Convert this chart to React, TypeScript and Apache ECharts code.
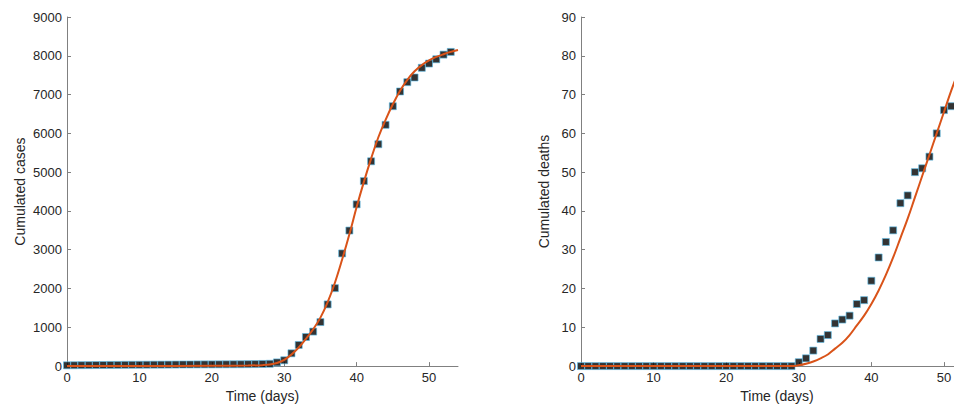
import React, { useEffect, useRef } from "react";
import * as echarts from "echarts";

const days = Array.from({ length: 54 }, (_, i) => i);
const cases = [20,22,24,25,27,28,30,31,33,34,35,36,37,38,39,40,41,42,43,44,44,45,46,47,48,50,52,55,60,95,150,330,545,750,890,1135,1590,2010,2905,3495,4170,4770,5280,5720,6220,6700,7080,7320,7440,7690,7800,7910,8030,8100];
const deaths = [0,0,0,0,0,0,0,0,0,0,0,0,0,0,0,0,0,0,0,0,0,0,0,0,0,0,0,0,0,0,1,2,4,7,8,11,12,13,16,17,22,28,32,35,42,44,50,51,54,60,66,67,72,74];
const fitDays = [0,10,20,25,27,28,29,30,31,32,33,34,35,36,37,38,39,40,41,42,43,44,45,46,47,48,49,50,51,52,53,54];
const fitCases = [0,2,8,15,25,40,80,160,300,480,700,950,1250,1650,2150,2750,3400,4100,4750,5350,5900,6350,6750,7100,7380,7600,7760,7880,7970,8040,8100,8150];
const fitDeaths = [0,0,0,0,0,0,0,0.2,0.6,1.2,2,3,4.5,6,8,10.5,13,16,19.5,23.5,28,33,38,43.5,49,54.5,60,65.5,71,76,81,86];

export default function App() {
  const ref = useRef<HTMLDivElement>(null);
  useEffect(() => {
    document.body.style.overflow = "hidden";
    const chart = echarts.init(ref.current!, null, { renderer: "svg" });
    const font = "Liberation Sans, Arial, sans-serif";
    const axisLine = { lineStyle: { color: "#808080", width: 1 } };
    const xAxis = (gi: number) => ({
      type: "value", gridIndex: gi, min: 0, max: 54, interval: 10,
      name: "Time (days)", nameLocation: "middle", nameGap: 22,
      nameTextStyle: { color: "#262626", fontSize: 14, fontFamily: font },
      axisLine, axisTick: { inside: true, length: 4, lineStyle: { color: "#808080" } },
      axisLabel: { color: "#262626", fontSize: 13, fontFamily: font, margin: 5, showMaxLabel: false },
      splitLine: { show: false },
    });
    const yAxis = (gi: number, max: number, interval: number, name: string, gap: number) => ({
      type: "value", gridIndex: gi, min: 0, max, interval,
      name, nameLocation: "middle", nameGap: gap,
      nameTextStyle: { color: "#262626", fontSize: 14, fontFamily: font },
      axisLine: { show: true, ...axisLine }, axisTick: { show: true, inside: true, length: 4, lineStyle: { color: "#808080" } },
      axisLabel: { color: "#262626", fontSize: 13, fontFamily: font, margin: 5, formatter: (v: number) => String(v) },
      splitLine: { show: false },
    });
    const scatter = (gi: number, data: number[]) => ({
      type: "scatter", xAxisIndex: gi, yAxisIndex: gi, symbol: "rect", symbolSize: 7,
      itemStyle: { color: "#000", borderColor: "#5BBCE8", borderWidth: 0.8 },
      data: days.map((d, i) => [d, data[i]]), z: 3,
    });
    const line = (gi: number, data: number[]) => ({
      type: "line", xAxisIndex: gi, yAxisIndex: gi, smooth: 0.4, showSymbol: false,
      lineStyle: { color: "#D95319", width: 2 },
      data: fitDays.map((d, i) => [d, data[i]]), z: 4,
    });
    chart.setOption({
      animation: false,
      backgroundColor: "#fff",
      grid: [
        { left: 59, top: 9, width: 391, height: 350 },
        { left: 573, top: 9, width: 392, height: 350 },
      ],
      xAxis: [xAxis(0), xAxis(1)],
      yAxis: [yAxis(0, 9000, 1000, "Cumulated cases", 40), yAxis(1, 90, 10, "Cumulated deaths", 30)],
      series: [scatter(0, cases), line(0, fitCases), scatter(1, deaths), line(1, fitDeaths)],
    });
    return () => chart.dispose();
  }, []);
  return <div ref={ref} style={{ width: 980, height: 400 }} />;
}
